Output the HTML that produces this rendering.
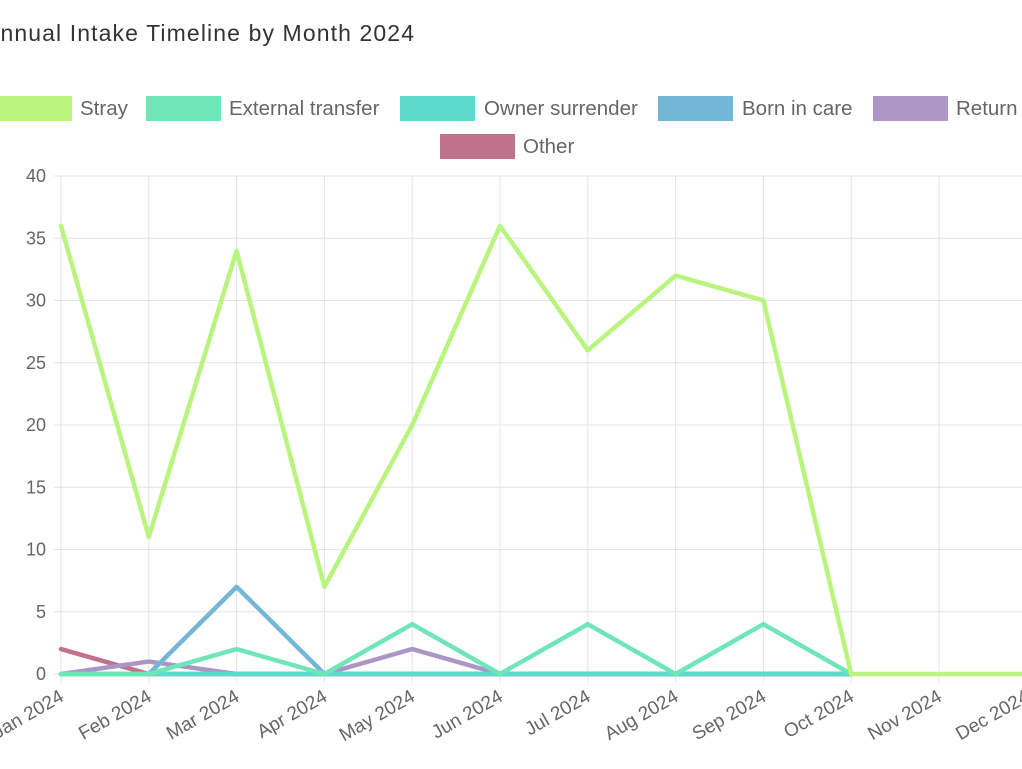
<!DOCTYPE html>
<html><head><meta charset="utf-8"><style>
html,body{margin:0;padding:0;background:#fff;width:1022px;height:769px;overflow:hidden}
svg{display:block}
</style></head><body>
<svg id="chart" width="1022" height="769" xmlns="http://www.w3.org/2000/svg" font-family="Liberation Sans, sans-serif">
<text x="-16" y="41" font-size="23" fill="#333" textLength="430" lengthAdjust="spacing">Annual Intake Timeline by Month 2024</text>
<g id="grid"></g>
<g id="lines"></g>
<g id="legend"></g>
</svg>
<script>
const months = ["Jan 2024","Feb 2024","Mar 2024","Apr 2024","May 2024","Jun 2024","Jul 2024","Aug 2024","Sep 2024","Oct 2024","Nov 2024","Dec 2024"];
const yTicks = [0,5,10,15,20,25,30,35,40];
const seriesNames = ["Stray","External transfer","Owner surrender","Born in care","Return","Other"];
const seriesColors = ["#b9f47f","#6fe6b8","#5cdacb","#74b6d6","#ab96c6","#c0718c"];
const stray = [36,11,34,7,20,36,26,32,30,0,0,0];
const externalTransfer = [0,0,2,0,4,0,4,0,4,0];
const ownerSurrender = [0,0,0,0,0,0,0,0,0,0];
const bornInCare = [0,0,7,0,0,0,0,0,0,0];
const returned = [0,1,0,0,2,0,0,0,0,0];
const other = [2,0,0,0,0,0,0,0,0,0];
const seriesData = [stray,externalTransfer,ownerSurrender,bornInCare,returned,other];

const NS="http://www.w3.org/2000/svg";
const x0=61, xStep=87.8, yBase=674, yTop=176, yMax=40;
const xs=i=>x0+i*xStep;
const ys=v=>yBase-(v/yMax)*(yBase-yTop);
function mk(tag,attrs,parent){const e=document.createElementNS(NS,tag);for(const k in attrs)e.setAttribute(k,attrs[k]);parent.appendChild(e);return e;}
const grid=document.getElementById('grid');
yTicks.forEach(t=>{
  const l=mk('line',{x1:54,x2:1022,y1:ys(t),y2:ys(t),stroke:'#e4e4e4','stroke-width':1},grid);
  
  
  const tx=mk('text',{x:46,y:ys(t)+6,'font-size':18,fill:'#666','text-anchor':'end'},grid);
  tx.textContent=t;
  
  
});
months.forEach((m,i)=>{
  const l=mk('line',{x1:xs(i),x2:xs(i),y1:yTop,y2:yBase+9,stroke:'#e4e4e4','stroke-width':1},grid);
  
  
  const tx=mk('text',{x:xs(i)+4,y:yBase+26,'font-size':19,fill:'#666','text-anchor':'end',transform:`rotate(-30 ${xs(i)+4} ${yBase+26})`},grid);
  tx.textContent=m;
  
  
});
const lines=document.getElementById('lines');
for(let s=seriesData.length-1;s>=0;s--){
  const pts=seriesData[s].map((v,i)=>xs(i)+','+ys(v)).join(' ');
  const p=mk('polyline',{points:pts,fill:'none',stroke:seriesColors[s],'stroke-width':4.5,'stroke-linejoin':'round','stroke-linecap':'round'},lines);
  
  
}
const legend=document.getElementById('legend');
const legPos=[[-3,96,80],[146,96,229],[400,96,484],[658,96,742],[873,96,956],[440,134,523]];
seriesNames.forEach((n,i)=>{
  const [bx,by,tx]=legPos[i];
  const r=mk('rect',{x:bx,y:by,width:75,height:25,fill:seriesColors[i]},legend);
  
  
  const t=mk('text',{x:tx,y:by+19,'font-size':20.5,fill:'#666'},legend);
  t.textContent=n;
  
  
});
</script>
</body></html>
